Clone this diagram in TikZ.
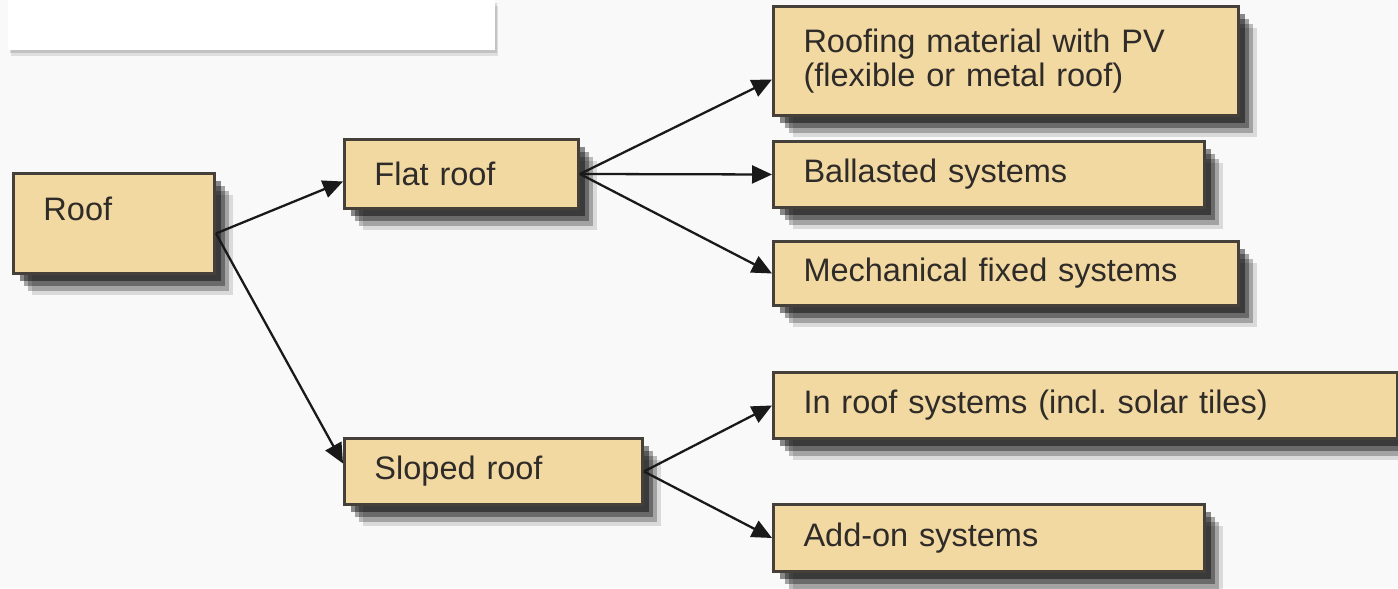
\documentclass[tikz,border=0pt]{standalone}
\usepackage{fontspec}
\setmainfont{Liberation Sans}
\usetikzlibrary{arrows.meta, shadows}

\definecolor{boxfill}{HTML}{F2D9A2}
\definecolor{boxline}{HTML}{45403A}
\definecolor{textcol}{HTML}{2E2B28}

\begin{document}
\begin{tikzpicture}[x=0.02cm, y=-0.02cm,
    every node/.style={font=\fontsize{18.5}{19.5}\selectfont, text=textcol},
    soft shadow/.style={
      drop shadow={shadow xshift=0.38cm, shadow yshift=-0.44cm, opacity=0.12, fill=black},
      drop shadow={shadow xshift=0.3cm, shadow yshift=-0.35cm, opacity=0.25, fill=black},
      drop shadow={shadow xshift=0.22cm, shadow yshift=-0.26cm, opacity=0.35, fill=black},
      drop shadow={shadow xshift=0.13cm, shadow yshift=-0.16cm, opacity=0.45, fill=black}},
    box/.style={draw=boxline, line width=1.7pt, fill=boxfill, anchor=north west,
      align=left, inner xsep=0.6cm, inner ysep=0pt, soft shadow},
    panel/.style={fill=white, anchor=north west, inner sep=0pt,
      drop shadow={shadow xshift=0.06cm, shadow yshift=-0.12cm, opacity=0.1, fill=black},
      drop shadow={shadow xshift=0.03cm, shadow yshift=-0.06cm, opacity=0.12, fill=black}},
    link/.style={draw=black!90, line width=1.3pt,
      -{Triangle[length=0.4cm, width=0.36cm]}}]

  % background
  \fill[gray!5] (0,0) rectangle (1398,588);
  \useasboundingbox (0,0) rectangle (1398,588);

  % white panel top left
  \node[panel, minimum width=9.74cm, minimum height=1cm] (header) at (8,0) {};

  % left column
  \node[box, text width=2.82cm, minimum height=2cm, text height=0.5cm, text depth=0.6cm] (roof) at (12,172) {Roof};
  \node[box, text width=3.48cm, minimum height=1.38cm] (flat) at (343,138) {Flat roof};
  \node[box, text width=4.76cm, minimum height=1.32cm] (sloped) at (343,437) {Sloped roof};

  % right column
  \node[box, text width=8.1cm, minimum height=2.18cm] (roofing) at (772,5)
    {Roofing material with PV\\(flexible or metal roof)};
  \node[box, text width=7.42cm, minimum height=1.32cm] (ballasted) at (772,140) {Ballasted systems};
  \node[box, text width=8.1cm, minimum height=1.28cm] (mechanical) at (772,240) {Mechanical fixed systems};
  \node[box, text width=11.28cm, minimum height=1.32cm] (inroof) at (772,371) {In roof systems (incl.\ solar tiles)};
  \node[box, text width=7.42cm, minimum height=1.34cm] (addon) at (772,503) {Add-on systems};

  % arrows
  \draw[link] ([yshift=-0.2cm]roof.east) -- ([yshift=-0.15cm]flat.west);
  \draw[link] ([yshift=-0.2cm]roof.east) -- ([yshift=0.16cm]sloped.west);
  \draw[link] (flat.east) -- ([yshift=-0.37cm]roofing.west);
  \draw[link] (flat.east) -- (ballasted.west);
  \draw[link] (flat.east) -- (mechanical.west);
  \draw[link] (sloped.east) -- (inroof.west);
  \draw[link] (sloped.east) -- (addon.west);

\end{tikzpicture}
\end{document}
